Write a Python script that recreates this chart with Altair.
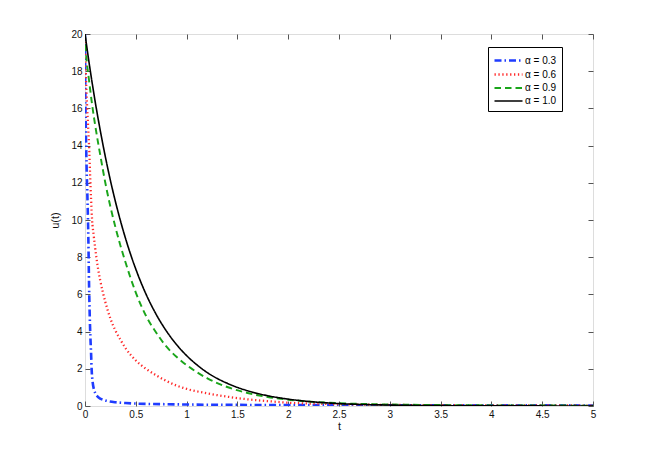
import altair as alt
import pandas as pd

# ---- data ----
labels = ["α = 0.3", "α = 0.6", "α = 0.9", "α = 1.0"]
colors = ["#1f3cff", "#ff2a2a", "#1aa51a", "#000000"]

t_03 = [0, 0.003, 0.008, 0.015, 0.025, 0.033, 0.04, 0.05, 0.06, 0.066, 0.075, 0.09,
        0.1, 0.125, 0.15, 0.2, 0.3, 0.4, 0.5, 0.75, 1.0, 1.5, 2.0, 3.0, 4.0, 5.0]
u_03 = [20, 17.0, 15.0, 13.0, 11.0, 9.0, 6.5, 4.2, 2.8, 1.9, 1.3, 0.85,
        0.7, 0.5, 0.4, 0.3, 0.2, 0.16, 0.13, 0.1, 0.08, 0.06, 0.05, 0.04, 0.035, 0.03]

t_06 = [0, 0.005, 0.01, 0.02, 0.03, 0.04, 0.05, 0.06, 0.07, 0.085, 0.1, 0.125, 0.15,
        0.2, 0.25, 0.3, 0.35, 0.4, 0.5, 0.6, 0.7, 0.8, 0.9, 1.0, 1.2, 1.4, 1.6, 1.8,
        2.0, 2.5, 3.0, 3.5, 4.0, 4.5, 5.0]
u_06 = [20, 18.6, 17.6, 16.2, 15.1, 14.0, 12.5, 11.1, 10.0, 9.2, 8.5, 7.5, 6.75,
        5.6, 4.7, 4.05, 3.55, 3.1, 2.45, 2.0, 1.65, 1.35, 1.1, 0.92, 0.68, 0.5, 0.36, 0.26,
        0.18, 0.1, 0.06, 0.045, 0.035, 0.03, 0.025]

t_09 = [0, 0.01, 0.02, 0.04, 0.07, 0.1, 0.15, 0.2, 0.3, 0.4, 0.5, 0.6, 0.7, 0.8, 0.9,
        1.0, 1.2, 1.4, 1.6, 1.8, 2.0, 2.25, 2.5, 3.0, 3.5, 4.0, 4.5, 5.0]
u_09 = [20, 19.0, 18.4, 17.5, 16.2, 15.1, 13.5, 12.0, 9.6, 7.7, 6.1, 4.85, 3.95, 3.2, 2.65,
        2.2, 1.5, 1.02, 0.7, 0.48, 0.34, 0.22, 0.15, 0.08, 0.05, 0.035, 0.025, 0.02]

t_10 = [0, 0.05, 0.1, 0.15, 0.2, 0.25, 0.3, 0.4, 0.5, 0.6, 0.7, 0.8, 0.9, 1.0, 1.1,
        1.2, 1.4, 1.6, 1.8, 2.0, 2.25, 2.5, 3.0, 3.5, 4.0, 4.5, 5.0]
u_10 = [20, 18.10, 16.37, 14.82, 13.41, 12.13, 10.98, 8.99, 7.36, 6.02, 4.93, 4.04, 3.31,
        2.71, 2.22, 1.81, 1.22, 0.82, 0.55, 0.37, 0.22, 0.13, 0.05, 0.02, 0.01, 0.004, 0.002]

x_ticks = [0, 0.5, 1, 1.5, 2, 2.5, 3, 3.5, 4, 4.5, 5]
y_ticks = [0, 2, 4, 6, 8, 10, 12, 14, 16, 18, 20]

series = [(labels[0], t_03, u_03), (labels[1], t_06, u_06),
          (labels[2], t_09, u_09), (labels[3], t_10, u_10)]
rows = []
for lab, ts, us in series:
    for i, (tt, uu) in enumerate(zip(ts, us)):
        rows.append({"series": lab, "t": tt, "u": uu, "order": i})
df = pd.DataFrame(rows)

FONT = "Liberation Sans"
xs = alt.Scale(domain=[0, 5], nice=False, zero=False)
ys = alt.Scale(domain=[0, 20], nice=False, zero=False)

common_axis = dict(domain=False, grid=False, offset=-5, tickSize=5, tickColor="#555555",
                   tickWidth=1, labelFont=FONT, labelFontSize=10, labelColor="#111111",
                   titleFont=FONT, titleFontSize=11, titleFontWeight="normal",
                   titleColor="#111111", labelPadding=3)


def leg():
    return alt.Legend(title=None, orient="none", legendX=403, legendY=13,
                      symbolType="M-1,0H3", symbolSize=196,
                      labelFont=FONT, labelFontSize=10, labelColor="#000",
                      strokeColor="#000000", fillColor="#ffffff",
                      padding=5, rowPadding=-3, labelOffset=15, cornerRadius=0)


lines = alt.Chart(df).mark_line(interpolate="monotone", clip=True).encode(
    x=alt.X("t:Q", scale=xs, title="t",
            axis=alt.Axis(values=x_ticks, format="~g", orient="bottom", titlePadding=1,
                          labelFlush=False, **common_axis)),
    y=alt.Y("u:Q", scale=ys, title="u(t)",
            axis=alt.Axis(values=y_ticks, format="d", orient="left", titlePadding=10,
                          labelFlush=False, **common_axis)),
    order="order:Q",
    color=alt.Color("series:N", scale=alt.Scale(domain=labels, range=colors), legend=leg()),
    strokeDash=alt.StrokeDash("series:N",
                              scale=alt.Scale(domain=labels,
                                              range=[[7, 3, 1.5, 3], [1.3, 2.6], [6.5, 4], [1, 0]]),
                              legend=leg()),
    strokeWidth=alt.StrokeWidth("series:N",
                                scale=alt.Scale(domain=labels, range=[2.6, 1.6, 3.0, 2.6]),
                                legend=leg()),
)

frame_axis = dict(domain=False, grid=False, offset=-5, tickSize=5, tickColor="#555555",
                  tickWidth=1, labels=False, title=None)
frame = alt.Chart(df).mark_line(opacity=0).encode(
    x=alt.X("t:Q", scale=xs, axis=alt.Axis(values=x_ticks, orient="top", **frame_axis)),
    y=alt.Y("u:Q", scale=ys, axis=alt.Axis(values=y_ticks, orient="right", **frame_axis)),
    detail="series:N",
)

chart = alt.layer(lines, frame).resolve_axis(x="independent", y="independent").properties(
    width=508, height=372,
    autosize=alt.AutoSizeParams(type="none"),
    padding={"left": 77, "top": 26, "right": 45, "bottom": 45},
).configure_view(stroke="#555555", strokeWidth=1).configure(background="#ffffff")

chart.save("out.html", embed_options={"renderer": "svg", "actions": False})
